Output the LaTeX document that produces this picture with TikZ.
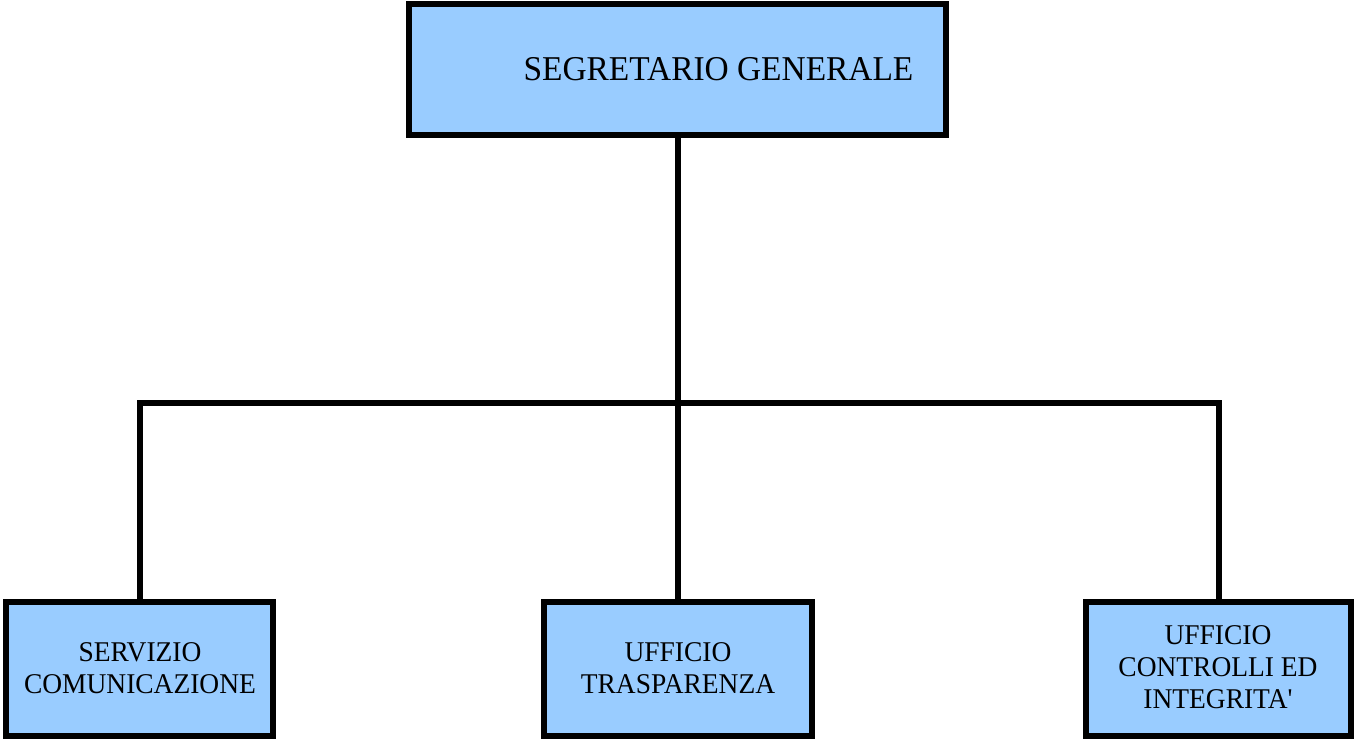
\documentclass[tikz,border=0pt]{standalone}
\usepackage{fontspec}
\usepackage{graphicx}
\setmainfont{Liberation Serif}
\definecolor{boxblue}{HTML}{99CCFF}
\newcommand{\narrowtext}[1]{\scalebox{0.96}[1]{\begin{tabular}{@{}c@{}}#1\end{tabular}}}
\begin{document}
\begin{tikzpicture}[x=0.5pt,y=-0.5pt,
  orgbox/.style={draw=black,fill=boxblue,line width=3pt,rectangle,inner sep=0pt},
  conn/.style={draw=black,line width=3pt},
  lbl/.style={align=center,font=\fontsize{14.3}{16.2}\selectfont,inner sep=0pt}]
\useasboundingbox (0,0) rectangle (1355,740);
\node[orgbox,minimum width=268.5pt,minimum height=65.5pt] (top) at (677.5,69.5) {};
\node[lbl,font=\fontsize{17.4}{19}\selectfont] (toptext) at (718.5,72.5) {\narrowtext{SEGRETARIO GENERALE}};
\node[orgbox,minimum width=133.5pt,minimum height=67pt] (left) at (139.5,669) {};
\node[orgbox,minimum width=134pt,minimum height=67pt] (mid) at (677.5,669) {};
\node[orgbox,minimum width=132.5pt,minimum height=67pt] (right) at (1218.5,669) {};
\node[lbl] (lefttext) at (140,671) {\narrowtext{SERVIZIO\\COMUNICAZIONE}};
\node[lbl] (midtext) at (678,671) {\narrowtext{UFFICIO\\TRASPARENZA}};
\node[lbl] (righttext) at (1218,670) {\narrowtext{UFFICIO\\CONTROLLI ED\\INTEGRITA\textquotesingle}};
\coordinate (j) at (677.5,403);
\draw[conn] (top.south) -- (mid.north);
\draw[conn] (left.north) |- (j) -| (right.north);
\end{tikzpicture}
\end{document}
